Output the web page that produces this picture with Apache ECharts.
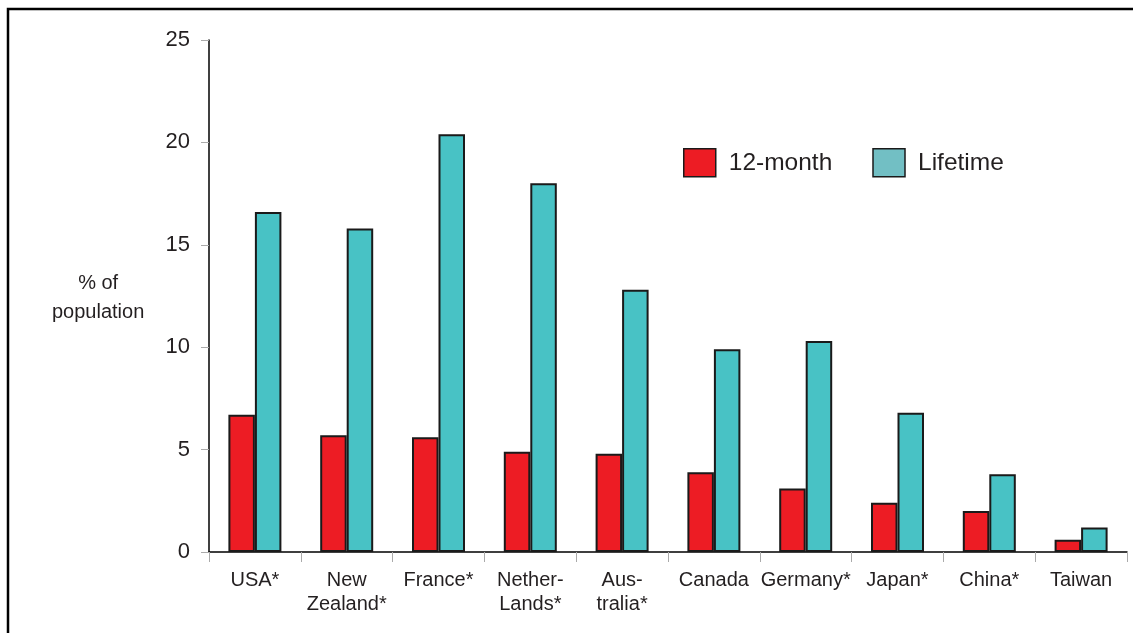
<!DOCTYPE html>
<html>
<head>
<meta charset="utf-8">
<script src="https://cdn.jsdelivr.net/npm/echarts@6/dist/echarts.min.js"></script>
<style>
html,body{margin:0;padding:0;background:#fff;}
#c{width:1133px;height:633px;}
</style>
</head>
<body>
<div id="c"></div>
<script>
var categories = ['USA*', 'New\nZealand*', 'France*', 'Nether-\nLands*', 'Aus-\ntralia*', 'Canada', 'Germany*', 'Japan*', 'China*', 'Taiwan'];
var twelveMonth = [6.7, 5.7, 5.6, 4.9, 4.8, 3.9, 3.1, 2.4, 2.0, 0.6];
var lifetime = [16.6, 15.8, 20.4, 18.0, 12.8, 9.9, 10.3, 6.8, 3.8, 1.2];
var yTicks = {min: 0, max: 25, interval: 5};

var font = 'Liberation Sans, Arial, Helvetica, sans-serif';
var txt = '#231F20';
var chart = echarts.init(document.getElementById('c'));
chart.setOption({
  animation: false,
  backgroundColor: '#fff',
  textStyle: {fontFamily: font},
  grid: {left: 209, right: 6, top: 40, bottom: 81, containLabel: false},
  legend: {
    left: 678, top: 143,
    icon: 'rect',
    itemWidth: 32, itemHeight: 28, itemGap: 40,
    textStyle: {fontFamily: font, fontSize: 24.5, color: txt, padding: [0, 0, 0, 8]},
    data: [
      {name: '12-month', itemStyle: {color: '#ED1C24', borderColor: '#1a1a1a', borderWidth: 1.5}},
      {name: 'Lifetime', itemStyle: {color: '#72BFC4', borderColor: '#1a1a1a', borderWidth: 1.5}}
    ]
  },
  xAxis: {
    type: 'category',
    data: categories,
    axisLine: {lineStyle: {color: '#000', width: 1.5}},
    axisTick: {show: true, length: 10, lineStyle: {color: '#aaa', width: 1}},
    axisLabel: {fontFamily: font, fontSize: 20, color: txt, margin: 16, lineHeight: 24, interval: 0}
  },
  yAxis: {
    type: 'value',
    min: yTicks.min, max: yTicks.max, interval: yTicks.interval,
    splitLine: {show: false},
    axisLine: {show: true, lineStyle: {color: '#000', width: 1.5}},
    axisTick: {show: true, length: 8, lineStyle: {color: '#aaa', width: 1}},
    axisLabel: {fontFamily: font, fontSize: 22, color: txt, margin: 19}
  },
  graphic: [
    {type: 'polyline', silent: true, shape: {points: [[8, 640], [8, 9], [1140, 9]]}, style: {stroke: '#000', lineWidth: 2.5, fill: null}},
    {type: 'text', left: 52, top: 269, style: {text: '% of\npopulation', font: '20px ' + font, fill: txt, lineHeight: 29, align: 'center', textAlign: 'center'}}
  ],
  series: [
    {name: '12-month', type: 'bar', data: twelveMonth, barWidth: 26.5, barGap: '0%',
     itemStyle: {color: '#ED1C24', borderColor: '#1a1a1a', borderWidth: 2}},
    {name: 'Lifetime', type: 'bar', data: lifetime, barWidth: 26.5, barGap: '0%',
     itemStyle: {color: '#48C2C5', borderColor: '#1a1a1a', borderWidth: 2}}
  ]
});
</script>
</body>
</html>
